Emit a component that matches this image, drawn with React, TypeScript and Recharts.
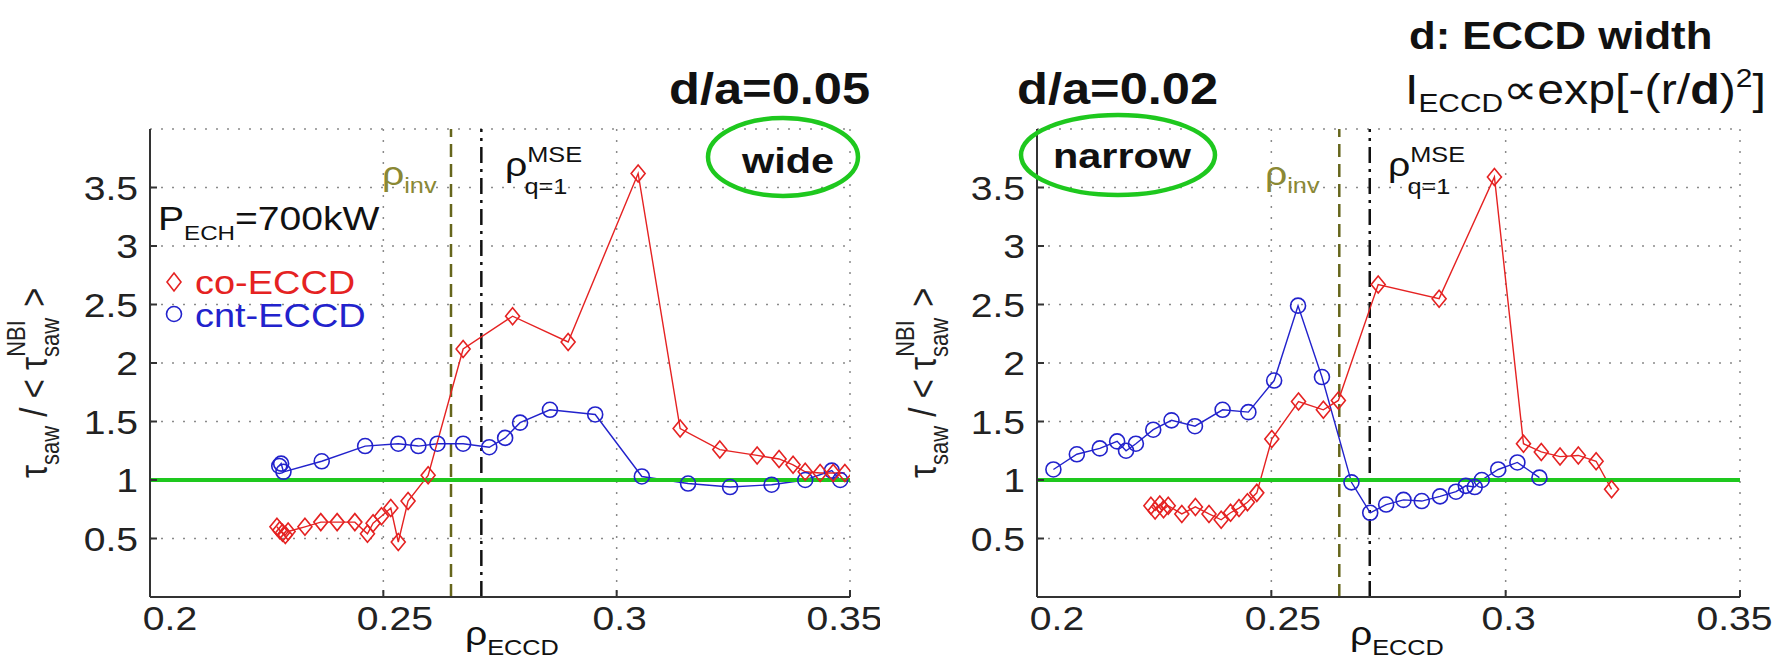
import { LineChart, Line, XAxis, YAxis, CartesianGrid, ReferenceLine } from "recharts";

const X_TICKS = [0.2, 0.25, 0.3, 0.35];
const Y_TICKS = [0.5, 1, 1.5, 2, 2.5, 3, 3.5];
const RHO_INV = 0.2645;
const RHO_MSE = 0.271;

// d/a = 0.05 ("wide")
const wideCoRho = [0.2272, 0.2278, 0.2284, 0.229, 0.2296, 0.2332, 0.2366, 0.2401, 0.2439, 0.2466, 0.2478, 0.2496, 0.2516, 0.2532, 0.2553, 0.2596, 0.2671, 0.2777, 0.2896, 0.3046, 0.3136, 0.3221, 0.3301, 0.3348, 0.3378, 0.3404, 0.3436, 0.3464, 0.3489];
const wideCoTau = [0.6, 0.57, 0.55, 0.53, 0.56, 0.6, 0.64, 0.64, 0.64, 0.54, 0.63, 0.69, 0.76, 0.47, 0.82, 1.04, 2.12, 2.4, 2.18, 3.62, 1.44, 1.26, 1.21, 1.18, 1.13, 1.07, 1.06, 1.06, 1.06];
const wideCntRho = [0.2277, 0.2281, 0.2286, 0.2368, 0.2461, 0.2532, 0.2575, 0.2616, 0.2671, 0.2727, 0.2761, 0.2793, 0.2857, 0.2954, 0.3054, 0.3153, 0.3243, 0.3332, 0.3404, 0.3461, 0.3479];
const wideCntTau = [1.12, 1.14, 1.07, 1.16, 1.29, 1.31, 1.29, 1.31, 1.31, 1.28, 1.36, 1.49, 1.6, 1.56, 1.03, 0.97, 0.94, 0.96, 1.0, 1.08, 1.0];

// d/a = 0.02 ("narrow")
const narrowCoRho = [0.2243, 0.2252, 0.2262, 0.227, 0.228, 0.2309, 0.2338, 0.2367, 0.2393, 0.2413, 0.2431, 0.2449, 0.2469, 0.2501, 0.2558, 0.2611, 0.2643, 0.2728, 0.2858, 0.2976, 0.3038, 0.3076, 0.3116, 0.3155, 0.3193, 0.3226];
const narrowCoTau = [0.78, 0.74, 0.79, 0.75, 0.78, 0.71, 0.77, 0.71, 0.66, 0.72, 0.76, 0.81, 0.89, 1.35, 1.67, 1.6, 1.68, 2.67, 2.55, 3.59, 1.31, 1.24, 1.2, 1.21, 1.16, 0.92];
const narrowCntRho = [0.2035, 0.2085, 0.2134, 0.2171, 0.219, 0.2211, 0.2248, 0.2287, 0.2337, 0.2396, 0.2451, 0.2506, 0.2557, 0.2608, 0.2671, 0.2711, 0.2745, 0.2782, 0.2821, 0.286, 0.2894, 0.2915, 0.2934, 0.2949, 0.2984, 0.3025, 0.3072];
const narrowCntTau = [1.09, 1.22, 1.27, 1.33, 1.25, 1.31, 1.43, 1.51, 1.46, 1.6, 1.58, 1.85, 2.49, 1.88, 0.98, 0.72, 0.79, 0.83, 0.82, 0.86, 0.9, 0.95, 0.94, 1.0, 1.09, 1.15, 1.02];

const RED = "#e52222";
const BLUE = "#2222cc";
const GREEN = "#1ec81e";
const OLIVE = "#66661c";
const FONT = "'Liberation Sans', Arial, sans-serif";
const SX = 1.15; // the source figure is stretched sideways

const zip = (r: number[], t: number[]) => r.map((x, i) => ({ r: x, v: t[i] }));

const Diamond = (p: any) => {
  const { cx, cy, index } = p;
  if (cx == null || cy == null) return null;
  return (
    <path
      key={`dm-${index}`}
      d={`M${cx},${cy - 8.5}L${cx + 7},${cy}L${cx},${cy + 8.5}L${cx - 7},${cy}Z`}
      fill="none"
      stroke={RED}
      strokeWidth={1.6}
    />
  );
};

const XTick = (p: any) => (
  <text
    transform={`translate(${p.x + 20 - 8.5 * p.index},${p.y + 33}) scale(${SX},1)`}
    textAnchor="middle"
    fontSize={34}
    fill="#222"
    fontFamily={FONT}
  >
    {String(p.payload.value)}
  </text>
);

const YTick = (p: any) => (
  <text
    transform={`translate(${p.x},${p.y}) scale(${SX},1)`}
    textAnchor="end"
    dy="0.36em"
    fontSize={34}
    fill="#222"
    fontFamily={FONT}
  >
    {String(p.payload.value)}
  </text>
);

interface PanelProps {
  co: { r: number; v: number }[];
  cnt: { r: number; v: number }[];
  width: number;
  left: number;
  marginLeft: number;
  marginRight: number;
}

function Panel({ co, cnt, width, left, marginLeft, marginRight }: PanelProps) {
  return (
    <div style={{ position: "absolute", left, top: 0 }}>
      <LineChart
        width={width}
        height={659}
        margin={{ top: 129, right: marginRight, left: marginLeft, bottom: 22 }}
      >
        <CartesianGrid strokeDasharray="2 9" stroke="#8a8a8a" strokeWidth={1.5} />
        <XAxis
          dataKey="r"
          type="number"
          domain={[0.2, 0.35]}
          ticks={X_TICKS}
          allowDataOverflow
          height={40}
          tickSize={-7}
          tickMargin={7}
          tick={<XTick />}
          axisLine={{ stroke: "#333", strokeWidth: 2 }}
          tickLine={{ stroke: "#333", strokeWidth: 2 }}
        />
        <XAxis
          xAxisId="top"
          orientation="top"
          dataKey="r"
          type="number"
          domain={[0.2, 0.35]}
          ticks={X_TICKS}
          height={0}
          tickSize={-7}
          tick={false}
          axisLine={{ stroke: "#333", strokeWidth: 2 }}
          tickLine={{ stroke: "#333", strokeWidth: 2 }}
        />
        <YAxis
          type="number"
          domain={[0, 4]}
          ticks={Y_TICKS}
          allowDataOverflow
          width={60}
          tickSize={-7}
          tickMargin={19}
          tick={<YTick />}
          axisLine={{ stroke: "#333", strokeWidth: 2 }}
          tickLine={{ stroke: "#333", strokeWidth: 2 }}
        />
        <YAxis
          yAxisId="right"
          orientation="right"
          type="number"
          domain={[0, 4]}
          ticks={Y_TICKS}
          width={0}
          tickSize={-7}
          tick={false}
          axisLine={{ stroke: "#333", strokeWidth: 2 }}
          tickLine={{ stroke: "#333", strokeWidth: 2 }}
        />
        <ReferenceLine x={RHO_INV} stroke={OLIVE} strokeWidth={2.5} strokeDasharray="13 7" />
        <ReferenceLine x={RHO_MSE} stroke="#111" strokeWidth={2.5} strokeDasharray="16 6 3 6" />
        <Line
          data={cnt}
          dataKey="v"
          stroke={BLUE}
          strokeWidth={1.4}
          dot={{ r: 7.5, fill: "none", stroke: BLUE, strokeWidth: 1.6 }}
          isAnimationActive={false}
        />
        <Line
          data={co}
          dataKey="v"
          stroke={RED}
          strokeWidth={1.4}
          dot={Diamond}
          isAnimationActive={false}
        />
        <ReferenceLine y={1} stroke={GREEN} strokeWidth={4} />
      </LineChart>
    </div>
  );
}

const T = ({ x, y, size = 34, fill = "#111", weight = "normal", children }: any) => (
  <text
    transform={`translate(${x},${y}) scale(${SX},1)`}
    fontSize={size}
    fill={fill}
    fontWeight={weight}
    fontFamily={FONT}
  >
    {children}
  </text>
);

const YLabel = ({ x }: { x: number }) => (
  <text
    transform={`translate(${x},478) scale(${SX},1) rotate(-90)`}
    fontSize={33}
    fill="#222"
    fontFamily={FONT}
  >
    <tspan>τ</tspan>
    <tspan fontSize={22} dy={10}>saw</tspan>
    <tspan dy={-10}> / &lt; τ</tspan>
    <tspan fontSize={22} dy={10}>saw</tspan>
    <tspan fontSize={22} dx={-39} dy={-29}>NBI</tspan>
    <tspan dx={4} dy={19}> &gt;</tspan>
  </text>
);

const RhoLabels = ({ xInv, xMse }: { xInv: number; xMse: number }) => (
  <g>
    <T x={xInv} y={185} fill="#8a8834">
      ρ<tspan fontSize={22} dy={8}>inv</tspan>
    </T>
    <T x={xMse} y={176}>
      ρ<tspan fontSize={22} dy={-14}>MSE</tspan>
      <tspan fontSize={22} dx={-50} dy={32}>q=1</tspan>
    </T>
  </g>
);

export default function App() {
  return (
    <div
      style={{
        position: "absolute",
        left: 0,
        top: 0,
        width: 1785,
        height: 659,
        background: "#fff",
        overflow: "hidden",
      }}
    >
      <Panel
        co={zip(wideCoRho, wideCoTau)}
        cnt={zip(wideCntRho, wideCntTau)}
        width={880}
        left={0}
        marginLeft={90}
        marginRight={30}
      />
      <Panel
        co={zip(narrowCoRho, narrowCoTau)}
        cnt={zip(narrowCntRho, narrowCntTau)}
        width={905}
        left={880}
        marginLeft={97}
        marginRight={45}
      />
      <svg
        width={1785}
        height={659}
        style={{ position: "absolute", left: 0, top: 0, pointerEvents: "none" }}
      >
        {/* titles */}
        <T x={669} y={104} size={44} weight="bold">d/a=0.05</T>
        <T x={1017} y={104} size={44} weight="bold">d/a=0.02</T>
        <T x={1409} y={49} size={38} weight="bold">d: ECCD width</T>
        <T x={1405} y={104} size={42}>
          I<tspan fontSize={26} dy={8}>ECCD</tspan>
          <tspan dy={-8}>∝exp[-(r/</tspan>
          <tspan fontWeight="bold">d</tspan>)
          <tspan fontSize={26} dy={-17}>2</tspan>
          <tspan dy={17}>]</tspan>
        </T>

        {/* left panel annotations */}
        <RhoLabels xInv={382} xMse={505} />
        <T x={742} y={173} size={36} weight="bold">wide</T>
        <ellipse cx={783} cy={157} rx={75} ry={39} fill="none" stroke={GREEN} strokeWidth={4.5} />
        <T x={158} y={230}>
          P<tspan fontSize={21} dy={10}>ECH</tspan>
          <tspan dy={-10}>=700kW</tspan>
        </T>
        <path d="M174,273L181,282L174,291L167,282Z" fill="none" stroke={RED} strokeWidth={1.6} />
        <T x={195} y={294} size={33} fill={RED}>co-ECCD</T>
        <circle cx={174} cy={314} r={7.5} fill="none" stroke={BLUE} strokeWidth={1.6} />
        <T x={195} y={327} size={33} fill={BLUE}>cnt-ECCD</T>
        <YLabel x={47} />
        <T x={465} y={645}>
          ρ<tspan fontSize={22} dy={10}>ECCD</tspan>
        </T>

        {/* right panel annotations */}
        <RhoLabels xInv={1265} xMse={1388} />
        <T x={1053} y={168} size={36} weight="bold">narrow</T>
        <ellipse cx={1118} cy={155} rx={97} ry={40} fill="none" stroke={GREEN} strokeWidth={4.5} />
        <YLabel x={936} />
        <T x={1350} y={645}>
          ρ<tspan fontSize={22} dy={10}>ECCD</tspan>
        </T>
      </svg>
    </div>
  );
}
